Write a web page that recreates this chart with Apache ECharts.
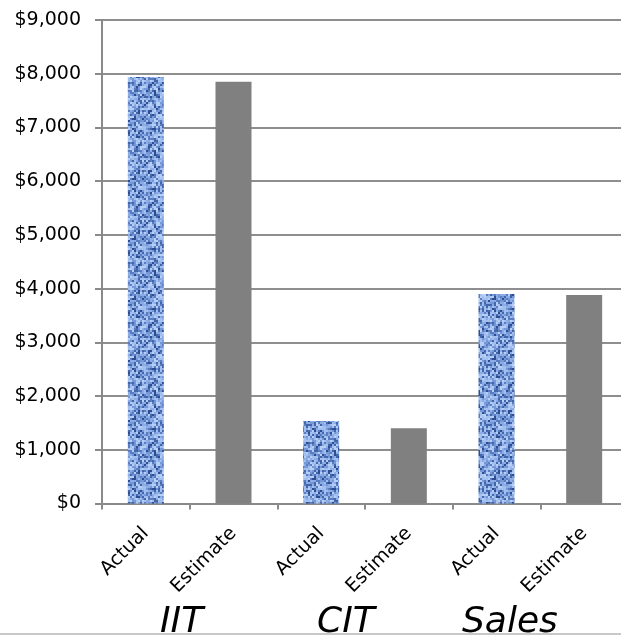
<!DOCTYPE html>
<html>
<head>
<meta charset="utf-8">
<script src="https://cdn.jsdelivr.net/npm/echarts@6/dist/echarts.min.js"></script>
<style>
html,body{margin:0;padding:0;background:#fff;}
#chart{width:621px;height:635px;}
</style>
</head>
<body>
<div id="chart"></div>
<script>
// ---- data ----
var categories = ['Actual', 'Estimate', 'Actual', 'Estimate', 'Actual', 'Estimate'];
var groups = ['IIT', 'CIT', 'Sales'];
var values = [7940, 7850, 1535, 1400, 3900, 3880];
var yTickLabels = ['$0', '$1,000', '$2,000', '$3,000', '$4,000', '$5,000', '$6,000', '$7,000', '$8,000', '$9,000'];

// ---- texture for "Actual" bars (deterministic) ----
function makeTexture() {
  var c = document.createElement('canvas');
  var bs = 2;
  var nw = 18, nh = 30;
  c.width = nw * bs; c.height = nh * bs;
  var ctx = c.getContext('2d');
  var seed = 987654;
  function rnd() { seed = (seed * 1103515245 + 12345) & 0x7fffffff; return seed / 0x7fffffff; }
  var pal = ['#b8cff5', '#a2bff0', '#8cace6', '#7497d8', '#5a7dc2', '#4365aa', '#2d4d90'];
  for (var y = 0; y < nh; y++) {
    for (var x = 0; x < nw; x++) {
      var weave = ((Math.floor(x / 2) + Math.floor(y / 3)) % 2 === 0) ? 0.1 : -0.04;
      var r = rnd() + weave;
      var idx;
      if (r < 0.1) idx = 6;
      else if (r < 0.2) idx = 5;
      else if (r < 0.33) idx = 4;
      else if (r < 0.5) idx = 3;
      else if (r < 0.68) idx = 2;
      else if (r < 0.86) idx = 1;
      else idx = 0;
      ctx.fillStyle = pal[idx];
      ctx.fillRect(x * bs, y * bs, bs, bs);
    }
  }
  return c;
}
var texture = makeTexture();

var seriesData = values.map(function (v, i) {
  var isActual = categories[i] === 'Actual';
  return {
    value: v,
    itemStyle: isActual ? { color: { image: texture, repeat: 'repeat' } } : { color: '#808080' }
  };
});

var chart = echarts.init(document.getElementById('chart'), null, { renderer: 'canvas' });

var groupLeft = [160, 317, 462];

chart.setOption({
  animation: false,
  backgroundColor: '#ffffff',
  grid: { left: 102, width: 526, top: 20, bottom: 131.5, containLabel: false, outerBoundsMode: 'none' },
  xAxis: {
    type: 'category',
    data: categories,
    boundaryGap: true,
    axisLine: { lineStyle: { color: '#8a8a8a', width: 2 } },
    axisTick: { show: true, length: 6, alignWithLabel: false, lineStyle: { color: '#8a8a8a', width: 2 } },
    axisLabel: {
      rotate: 45, margin: 27, interval: 0,
      color: '#000', fontFamily: 'DejaVu Sans', fontSize: 19
    }
  },
  yAxis: {
    type: 'value',
    min: 0, max: 9000, interval: 1000,
    axisLine: { show: true, lineStyle: { color: '#8a8a8a', width: 2 } },
    axisTick: { show: true, length: 7, lineStyle: { color: '#8a8a8a', width: 2 } },
    splitLine: { show: true, lineStyle: { color: '#8e8e8e', width: 2 } },
    axisLabel: {
      margin: 21, color: '#000', fontFamily: 'DejaVu Sans', fontSize: 19,
      formatter: function (v) { return yTickLabels[Math.round(v / 1000)]; }
    }
  },
  series: [{
    type: 'bar',
    data: seriesData,
    barWidth: 36
  }],
  graphic: groups.map(function (g, i) {
    return {
      type: 'text',
      left: groupLeft[i],
      top: 605,
      style: {
        text: g,
        font: 'italic 36px "DejaVu Sans"',
        fill: '#000'
      }
    };
  }).concat([{
    type: 'rect',
    shape: { x: 0, y: 633, width: 621, height: 2 },
    style: { fill: '#c8c8c8' }
  }])
});
</script>
</body>
</html>
